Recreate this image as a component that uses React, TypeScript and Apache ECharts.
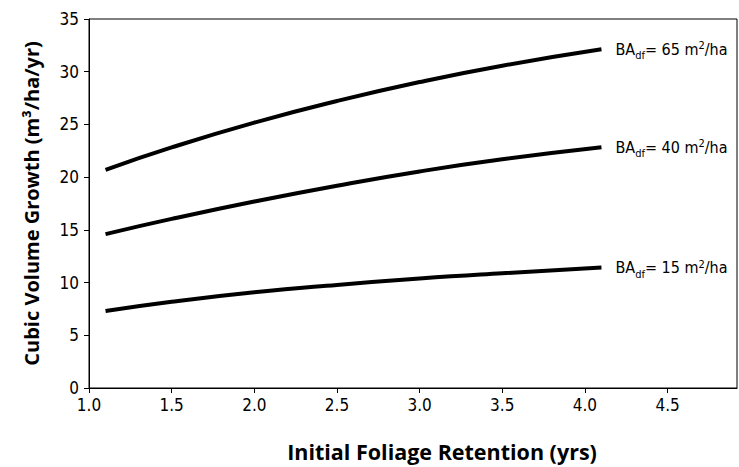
import React, { useEffect, useRef } from "react";
import * as echarts from "echarts";

// Initial foliage retention (years) at which the curves are evaluated
const retention = [1.1, 1.5, 2.0, 2.5, 3.0, 3.5, 4.1];

// Cubic volume growth (m³/ha/yr) for three Douglas-fir basal areas
const growthBA65 = [20.7, 22.82, 25.17, 27.22, 29.02, 30.57, 32.13];
const growthBA40 = [14.6, 16.04, 17.69, 19.19, 20.54, 21.69, 22.83];
const growthBA15 = [7.3, 8.18, 9.08, 9.78, 10.38, 10.88, 11.42];

const basalAreas = ["65", "40", "15"];
const xTicks = [1.0, 1.5, 2.0, 2.5, 3.0, 3.5, 4.0, 4.5];

const NARROW =
  "'DejaVu Sans Condensed', 'Liberation Sans Narrow', 'Liberation Sans', sans-serif";
const BOLD = "'Open Sans', 'Noto Sans', sans-serif";

function makeSeries(values: number[], ba: string) {
  return {
    type: "line",
    name: ba,
    data: retention.map((x, i) => [x, values[i]]),
    smooth: true,
    showSymbol: false,
    symbol: "none",
    lineStyle: { color: "#000", width: 4, cap: "butt" },
    endLabel: {
      show: true,
      distance: 14,
      formatter: () => `{t|BA}{sub|df}{t|= ${ba} m}{sup|2}{t|/ha}`,
      rich: {
        t: {
          fontFamily: NARROW,
          fontSize: 16,
          color: "#000",
          lineHeight: 24,
          verticalAlign: "middle",
        },
        sub: {
          fontFamily: NARROW,
          fontSize: 11,
          color: "#000",
          lineHeight: 24,
          verticalAlign: "bottom",
        },
        sup: {
          fontFamily: NARROW,
          fontSize: 11,
          color: "#000",
          lineHeight: 24,
          verticalAlign: "top",
          padding: [3, 0, 0, 0],
        },
      },
    },
  };
}

export default function App() {
  const ref = useRef<HTMLDivElement>(null);

  useEffect(() => {
    document.body.style.margin = "0";
    const chart = echarts.init(ref.current!, null, { renderer: "svg" });
    chart.setOption({
      animation: false,
      backgroundColor: "#fff",
      grid: {
        left: 89,
        right: 2,
        top: 19,
        bottom: 77,
        show: true,
        borderColor: "#000",
        borderWidth: 1,
        backgroundColor: "transparent",
      },
      xAxis: {
        type: "value",
        min: 1.0,
        max: 4.92,
        interval: 0.5,
        name: "Initial Foliage Retention (yrs)",
        nameLocation: "middle",
        nameGap: 52,
        nameTextStyle: {
          fontFamily: BOLD,
          fontWeight: "bold",
          fontSize: 21.5,
          color: "#000",
          padding: [0, 0, 0, 58],
        },
        axisLine: { show: true, lineStyle: { color: "#000", width: 1 } },
        axisTick: {
          show: true,
          length: 5,
          lineStyle: { color: "#000" },
          customValues: xTicks,
        },
        axisLabel: {
          fontFamily: NARROW,
          fontSize: 17,
          color: "#000",
          margin: 8,
          customValues: xTicks,
          formatter: (v: number) => v.toFixed(1),
        },
        splitLine: { show: false },
      },
      yAxis: {
        type: "value",
        min: 0,
        max: 35,
        interval: 5,
        name: "Cubic Volume Growth (m³/ha/yr)",
        nameLocation: "middle",
        nameGap: 48,
        nameTextStyle: {
          fontFamily: BOLD,
          fontWeight: "bold",
          fontSize: 20,
          color: "#000",
        },
        axisLine: { show: true, lineStyle: { color: "#000", width: 1 } },
        axisTick: { show: true, length: 5, lineStyle: { color: "#000" } },
        axisLabel: {
          fontFamily: NARROW,
          fontSize: 17,
          color: "#000",
          margin: 10,
        },
        splitLine: { show: false },
      },
      series: [
        makeSeries(growthBA65, basalAreas[0]),
        makeSeries(growthBA40, basalAreas[1]),
        makeSeries(growthBA15, basalAreas[2]),
      ],
    });
    return () => chart.dispose();
  }, []);

  return <div ref={ref} style={{ width: 739, height: 467 }} />;
}
